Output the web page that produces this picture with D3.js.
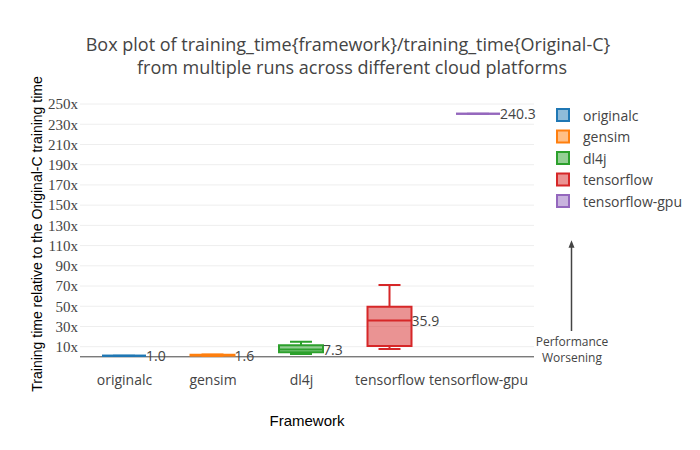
<!DOCTYPE html>
<html>
<head>
<meta charset="utf-8">
<script src="https://cdn.jsdelivr.net/npm/d3@7"></script>
<style>
  html, body { margin: 0; padding: 0; background: #fff; }
  svg { display: block; }
</style>
</head>
<body>
<svg id="chart" width="700" height="450"></svg>
<script>
// ---- data ----
const categories  = ["originalc", "gensim", "dl4j", "tensorflow", "tensorflow-gpu"];
const whiskerLow  = [1.0, 1.0, 2.8, 7.7, 240.3];
const q1          = [1.0, 1.2, 4.5, 10.7, 240.3];
const median      = [1.0, 1.6, 7.3, 35.9, 240.3];
const q3          = [1.0, 2.1, 11.4, 49.6, 240.3];
const whiskerHigh = [1.0, 2.3, 15.0, 70.9, 240.3];
const medianLabels = ["1.0", "1.6", "7.3", "35.9", "240.3"];
const yTicks = [10, 30, 50, 70, 90, 110, 130, 150, 170, 190, 210, 230, 250];
const colors = ["#1f77b4", "#ff7f0e", "#2ca02c", "#d62728", "#9467bd"];

(function () {
const svg = d3.select("#chart");
const plotL = 80, plotR = 534, plotT = 100, plotB = 356.8;

const x = d3.scalePoint().domain(categories).range([124, 478]);
const y = d3.scaleLinear().domain([0, 254]).range([plotB, plotT]);
const halfW = 22;

// gridlines
svg.append("g").selectAll("line").data(yTicks).join("line")
  .attr("x1", plotL).attr("x2", plotR)
  .attr("y1", d => y(d)).attr("y2", d => y(d))
  .attr("stroke", "#eee").attr("stroke-width", 1);

// y axis labels
const yAxis = d3.axisLeft(y).tickValues(yTicks).tickSize(0).tickPadding(2).tickFormat(d => d + "x");
const gy = svg.append("g").attr("transform", `translate(${plotL},0)`).call(yAxis);
gy.select(".domain").remove();
gy.selectAll("text")
  .attr("font-family", "'Liberation Serif', 'Times New Roman', serif")
  .attr("font-size", 15).attr("fill", "#444");

// zero line
svg.append("line")
  .attr("x1", plotL).attr("x2", plotR)
  .attr("y1", y(0)).attr("y2", y(0))
  .attr("stroke", "#444").attr("stroke-width", 1);

// x axis labels
const xAxis = d3.axisBottom(x).tickSize(0).tickPadding(0);
const gx = svg.append("g").attr("transform", `translate(0,${plotB})`).call(xAxis);
gx.select(".domain").remove();
gx.selectAll("text")
  .attr("font-family", "'Open Sans', sans-serif")
  .attr("font-size", 14).attr("fill", "#444")
  .attr("dy", 0).attr("y", 23).attr("dominant-baseline", "central");

// boxes
const idx = d3.range(categories.length);
const boxes = svg.append("g").selectAll("g").data(idx).join("g");

boxes.append("path") // whiskers
  .attr("d", i => {
    const cx = x(categories[i]);
    const cw = halfW / 2;
    return `M${cx},${y(q3[i])}V${y(whiskerHigh[i])}` +
           `M${cx - cw},${y(whiskerHigh[i])}H${cx + cw}` +
           `M${cx},${y(q1[i])}V${y(whiskerLow[i])}` +
           `M${cx - cw},${y(whiskerLow[i])}H${cx + cw}`;
  })
  .attr("fill", "none").attr("stroke", i => colors[i]).attr("stroke-width", 2);

boxes.append("path") // box
  .attr("d", i => {
    const cx = x(categories[i]);
    return `M${cx - halfW},${y(q1[i])}H${cx + halfW}V${y(q3[i])}H${cx - halfW}Z`;
  })
  .attr("fill", i => colors[i]).attr("fill-opacity", 0.5)
  .attr("stroke", i => colors[i]).attr("stroke-width", 2);

boxes.append("line") // median
  .attr("x1", i => x(categories[i]) - halfW).attr("x2", i => x(categories[i]) + halfW)
  .attr("y1", i => y(median[i])).attr("y2", i => y(median[i]))
  .attr("stroke", i => colors[i]).attr("stroke-width", 2);

// median annotations
svg.append("g").selectAll("text").data(idx).join("text")
  .attr("x", i => x(categories[i]) + halfW)
  .attr("y", i => y(median[i]))
  .attr("dominant-baseline", "central")
  .attr("font-family", "'Open Sans', sans-serif")
  .attr("font-size", 14).attr("fill", "#444")
  .text(i => medianLabels[i]);

// title
const title = svg.append("text")
  .attr("text-anchor", "middle")
  .attr("font-family", "'Open Sans', sans-serif")
  .attr("font-size", 18).attr("fill", "#444");
title.append("tspan").attr("x", 348).attr("y", 44).attr("dominant-baseline", "central")
  .text("Box plot of training_time{framework}/training_time{Original-C}");
title.append("tspan").attr("x", 352).attr("y", 67).attr("dominant-baseline", "central")
  .text("from multiple runs across different cloud platforms");

// axis titles
svg.append("text")
  .attr("x", (plotL + plotR) / 2).attr("y", 420)
  .attr("text-anchor", "middle").attr("dominant-baseline", "central")
  .attr("font-family", "'Liberation Sans', Arial, sans-serif")
  .attr("font-size", 15).attr("fill", "#000")
  .text("Framework");

svg.append("text")
  .attr("transform", "translate(37,234) rotate(-90)")
  .attr("text-anchor", "middle").attr("dominant-baseline", "central")
  .attr("font-family", "'Liberation Sans', Arial, sans-serif")
  .attr("font-size", 14).attr("fill", "#000")
  .text("Training time relative to the Original-C training time");

// legend
const legend = svg.append("g").selectAll("g").data(idx).join("g")
  .attr("transform", i => `translate(563,${115 + i * 21.5})`);
legend.append("rect")
  .attr("x", -6).attr("y", -6).attr("width", 12).attr("height", 12)
  .attr("fill", i => colors[i]).attr("fill-opacity", 0.5)
  .attr("stroke", i => colors[i]).attr("stroke-width", 2);
legend.append("text")
  .attr("x", 20).attr("y", 0).attr("dominant-baseline", "central")
  .attr("font-family", "'Open Sans', sans-serif")
  .attr("font-size", 14).attr("fill", "#444")
  .text(i => categories[i]);

// "Performance Worsening" arrow annotation
svg.append("defs").append("marker")
  .attr("id", "arrow").attr("viewBox", "0 0 10 10")
  .attr("refX", 5).attr("refY", 5)
  .attr("markerWidth", 5).attr("markerHeight", 5)
  .attr("orient", "auto")
  .append("path").attr("d", "M0,1 L10,5 L0,9 Z").attr("fill", "#444");
svg.append("line")
  .attr("x1", 571.5).attr("y1", 331).attr("x2", 571.5).attr("y2", 244)
  .attr("stroke", "#444").attr("stroke-width", 1.5)
  .attr("marker-end", "url(#arrow)");
const ann = svg.append("text")
  .attr("text-anchor", "middle")
  .attr("font-family", "'Open Sans', sans-serif")
  .attr("font-size", 12).attr("fill", "#444");
ann.append("tspan").attr("x", 572).attr("y", 341).attr("dominant-baseline", "central").text("Performance");
ann.append("tspan").attr("x", 572).attr("y", 357).attr("dominant-baseline", "central").text("Worsening");
})();
</script>
</body>
</html>
